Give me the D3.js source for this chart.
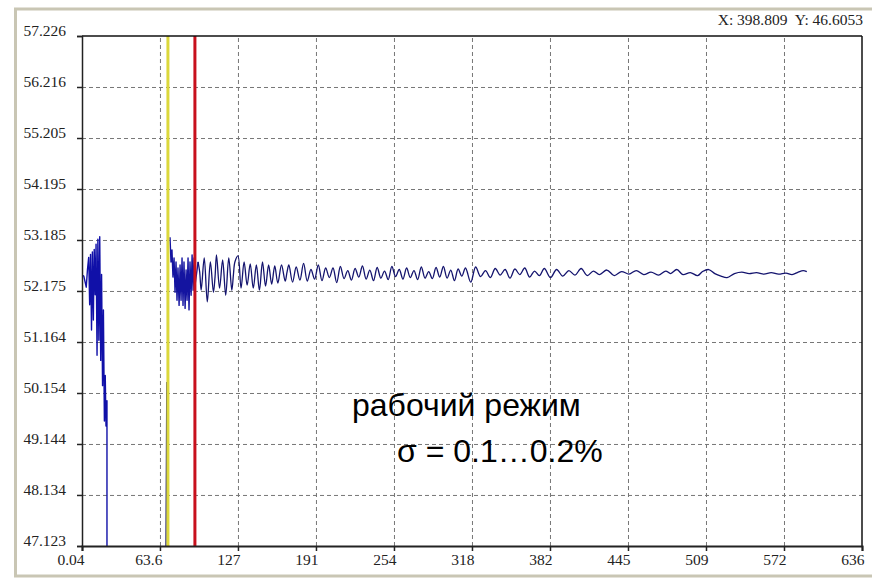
<!DOCTYPE html>
<html>
<head>
<meta charset="utf-8">
<script src="https://cdn.jsdelivr.net/npm/d3@7"></script>
<style>
  body { margin: 0; background: #fff; }
  #graf { width: 872px; height: 579px; }
</style>
</head>
<body>
<div id="graf"></div>
<script>
// I. Datos

// ticks del eje x y sus etiquetas
xTicks = [0.04, 63.6, 127.2, 190.8, 254.4, 318, 381.6, 445.2, 508.8, 572.4, 636]
xLabels = ['0.04', '63.6', '127', '191', '254', '318', '382', '445', '509', '572', '636']

// ticks del eje y
yTicks = [47.123, 48.134, 49.144, 50.154, 51.164, 52.175, 53.185, 54.195, 55.205, 56.216, 57.226]
yLabels = ['47.123', '48.134', '49.144', '50.154', '51.164', '52.175', '53.185', '54.195', '55.205', '56.216', '57.226']

// marcadores verticales (amarillo y rojo)
markerT = [70.1, 92.1]
markerColor = ['#dcd83c', '#c8101c']

// primer tramo: arranque y caida
earlyT = [0.04, 1.5, 3.5, 4.5, 5.5, 6.3, 7.0, 7.8, 8.5, 9.3, 10.0, 10.8, 11.5, 12.3, 13.0, 13.8, 14.5, 15.3, 16.0, 16.8, 17.5, 18.3, 19.0, 19.6, 20.4, 20.4]
earlyV = [52.49, 52.47, 52.25, 52.6, 52.84, 51.9, 52.9, 51.4, 52.95, 51.6, 53.0, 52.1, 53.1, 50.9, 53.2, 51.2, 53.25, 50.8, 52.5, 50.3, 51.8, 49.6, 50.5, 49.5, 50.0, 47.123]

// segundo tramo: subida junto al marcador amarillo
riseT = [68.5, 68.9, 69.2]
riseV = [47.123, 48.86, 50.37]

// tercer tramo: transitorio denso (hasta el marcador rojo)
denseT = [71.8, 72.6, 73.4, 74.2, 75.1, 75.9, 76.7, 77.5, 78.3, 79.2, 80.0, 80.8, 81.6, 82.4, 83.2, 84.1, 84.9, 85.7, 86.5, 87.3, 88.1, 89.0, 89.8, 90.6, 91.4, 92.2, 94.7]
denseV = [53.24, 52.75, 52.99, 52.45, 52.83, 52.15, 52.75, 51.99, 52.63, 51.89, 52.69, 51.99, 52.83, 51.89, 52.75, 51.83, 52.59, 51.99, 52.83, 51.80, 52.75, 52.09, 52.89, 52.19, 52.83, 52.29, 52.75]

// cuarto tramo: regimen de trabajo
mainT = [94.7, 96.0, 97.2, 99.7, 102.2, 104.7, 107.2, 108.5, 109.7, 112.2, 114.7, 117.2, 119.7, 122.2, 123.5, 124.7, 127.2, 129.7, 132.2, 134.7, 137.2, 139.7, 142.2, 144.7, 147.2, 149.7, 152.2, 154.7, 157.2, 159.7,
  162.7, 165.7, 167.2, 168.7, 171.7, 174.7, 177.7, 180.7, 183.7, 186.7, 189.7, 192.7, 195.7, 198.7, 201.7, 204.7, 207.7, 210.7, 213.7, 216.7, 219.7, 222.7, 225.7, 228.7, 231.7, 234.7, 237.7,
  240.7, 243.7, 246.7, 249.7, 252.7, 255.7, 258.7, 261.7, 264.7, 267.7, 270.7, 273.7, 276.7, 279.7, 282.7, 285.7, 288.7, 291.7, 294.7, 297.7, 300.7, 303.7, 306.7, 309.7, 312.7,
  317, 321, 325, 329, 333, 337, 341, 345, 349, 353, 357, 361, 365, 369, 373, 377,
  382, 387, 392, 397, 402, 407, 412, 417, 422, 428, 434, 440, 446, 452, 458, 464, 470, 476, 480, 485, 490, 496, 502, 506, 511, 516, 521, 526, 532, 538, 544, 550, 556, 562, 568, 574, 579, 584, 588, 591]
mainV = [52.75, 52.55, 52.19, 52.83, 51.96, 52.75, 52.15, 52.45, 52.89, 52.23, 52.79, 52.09, 52.83, 52.19, 52.50, 52.75, 52.87, 52.23, 52.75, 52.29, 52.71, 52.23, 52.69, 52.19, 52.75, 52.27, 52.69, 52.31, 52.67, 52.33,
  52.69, 52.37, 52.55, 52.69, 52.35, 52.65, 52.39, 52.72, 52.37, 52.60, 52.41, 52.69, 52.38, 52.63, 52.44, 52.63, 52.34, 52.66, 52.42, 52.58, 52.39, 52.62, 52.45, 52.67, 52.41, 52.59, 52.38,
  52.64, 52.43, 52.57, 52.40, 52.66, 52.46, 52.60, 52.41, 52.63, 52.44, 52.58, 52.40, 52.65, 52.43, 52.56, 52.42, 52.64, 52.45, 52.66, 52.43, 52.59, 52.38, 52.61, 52.47, 52.63, 52.35,
  52.65, 52.46, 52.58, 52.44, 52.62, 52.49, 52.60, 52.43, 52.61, 52.50, 52.63, 52.45, 52.57, 52.48, 52.62, 52.44,
  52.60, 52.47, 52.58, 52.49, 52.62, 52.48, 52.57, 52.50, 52.59, 52.48, 52.56, 52.51, 52.58, 52.50, 52.55, 52.49, 52.57, 52.52, 52.60, 52.50, 52.54, 52.48, 52.56, 52.60, 52.52, 52.47, 52.44, 52.52, 52.55, 52.52, 52.54, 52.51, 52.54, 52.51, 52.53, 52.50, 52.55, 52.58, 52.56, 52.53]

// II. Configuracion
graf = d3.select('#graf')
ancho_total = 872
alto_total = 579

// caja del grafico en pixeles
margins = { top: 36, left: 82, right: 10, bottom: 33 }
ancho = ancho_total - margins.left - margins.right
alto = alto_total - margins.top - margins.bottom

fuenteSerif = "'Liberation Serif', 'DejaVu Serif', 'Times New Roman', serif"
fuenteSans = "'Liberation Sans', Arial, sans-serif"

svg = graf.append('svg')
          .attr('width', ancho_total)
          .attr('height', alto_total)

// marco de la ventana
svg.append('rect')
   .attr('x', 15.5).attr('y', 9)
   .attr('width', 900).attr('height', 567)
   .attr('fill', '#fff')
   .attr('stroke', '#c9c6b4')
   .attr('stroke-width', 3)

g = svg.append('g')
       .attr('transform', `translate(${ margins.left }, ${ margins.top })`)

x = d3.scaleLinear().domain([0.04, 636]).range([0, ancho])
y = d3.scaleLinear().domain([47.123, 57.226]).range([alto, 0])

// rejilla punteada
g.append('g')
 .attr('transform', `translate(0, ${ alto })`)
 .call(d3.axisBottom(x).tickValues(xTicks.slice(1, -1)).tickSize(-alto).tickFormat(''))
 .call(a => a.select('.domain').remove())
 .selectAll('line')
   .attr('stroke', '#777')
   .attr('stroke-dasharray', '4,3')

g.append('g')
 .call(d3.axisLeft(y).tickValues(yTicks.slice(1, -1)).tickSize(-ancho).tickFormat(''))
 .call(a => a.select('.domain').remove())
 .selectAll('line')
   .attr('stroke', '#777')
   .attr('stroke-dasharray', '4,3')

// lineas de la senal: los tramos con ondas suaves usan una curva
lineaRecta = d3.line()
               .x(d => x(d[0]))
               .y(d => y(d[1]))
lineaCurva = d3.line()
               .x(d => x(d[0]))
               .y(d => y(d[1]))
               .curve(d3.curveCatmullRom.alpha(0.5))

tramos = [
  { t: earlyT, v: earlyV, color: '#1010a8', w: 1.4, linea: lineaRecta },
  { t: riseT, v: riseV, color: '#2a2a70', w: 1.4, linea: lineaRecta },
  { t: denseT, v: denseV, color: '#1414a0', w: 1.4, linea: lineaRecta },
  { t: mainT, v: mainV, color: '#14146e', w: 1.3, linea: lineaCurva }
]

svg.append('clipPath').attr('id', 'recorte')
   .append('rect')
   .attr('x', 0).attr('y', 0)
   .attr('width', ancho).attr('height', alto + 1)

g.append('g')
 .attr('clip-path', 'url(#recorte)')
 .selectAll('path')
 .data(tramos)
 .enter()
 .append('path')
   .attr('d', d => d.linea(d3.zip(d.t, d.v)))
   .attr('fill', 'none')
   .attr('stroke', d => d.color)
   .attr('stroke-width', d => d.w)
   .attr('stroke-linejoin', 'round')

// marcadores verticales
g.selectAll('.marcador')
 .data(markerT)
 .enter()
 .append('line')
   .attr('class', 'marcador')
   .attr('x1', d => x(d)).attr('x2', d => x(d))
   .attr('y1', 0).attr('y2', alto)
   .attr('stroke', (d, i) => markerColor[i])
   .attr('stroke-width', 3)

// bordes superior y derecho
g.append('line').attr('x1', 0).attr('x2', ancho).attr('y1', 0).attr('y2', 0)
 .attr('stroke', '#111').attr('stroke-width', 1.5)
g.append('line').attr('x1', ancho).attr('x2', ancho).attr('y1', 0).attr('y2', alto)
 .attr('stroke', '#111').attr('stroke-width', 1.5)

// ejes
xAxisGroup = g.append('g')
              .attr('transform', `translate(0, ${ alto })`)
              .call(d3.axisBottom(x).tickValues(xTicks).tickSize(5).tickFormat((d, i) => xLabels[i]))
xAxisGroup.select('.domain').attr('stroke', '#222').attr('stroke-width', 2)
xAxisGroup.selectAll('line').attr('stroke', '#222').attr('stroke-width', 1.5)
xAxisGroup.selectAll('text')
          .attr('text-anchor', 'end')
          .attr('x', 2)
          .attr('y', 8)
          .style('font-family', fuenteSerif)
          .style('font-size', '15.5px')
          .style('fill', '#222')

yAxisGroup = g.append('g')
              .call(d3.axisLeft(y).tickValues(yTicks).tickSize(5).tickFormat((d, i) => yLabels[i]))
yAxisGroup.select('.domain').attr('stroke', '#222').attr('stroke-width', 1.5)
yAxisGroup.selectAll('line').attr('stroke', '#222').attr('stroke-width', 1.5)
yAxisGroup.selectAll('text')
          .attr('x', -16)
          .attr('dy', '-0.02em')
          .style('font-family', fuenteSerif)
          .style('font-size', '15.5px')
          .style('fill', '#222')

// lectura del cursor arriba a la derecha
svg.append('text')
   .attr('x', 863).attr('y', 25)
   .attr('text-anchor', 'end')
   .style('font-family', fuenteSerif)
   .style('font-size', '15.5px')
   .style('fill', '#222')
   .style('white-space', 'pre')
   .text('X: 398.809  Y: 46.6053')

// anotacion
svg.append('text')
   .attr('x', 352).attr('y', 416)
   .style('font-family', fuenteSans)
   .style('font-size', '32px')
   .text('рабочий режим')
svg.append('text')
   .attr('x', 397).attr('y', 462)
   .style('font-family', fuenteSans)
   .style('font-size', '32px')
   .text('σ = 0.1…0.2%')
</script>
</body>
</html>
